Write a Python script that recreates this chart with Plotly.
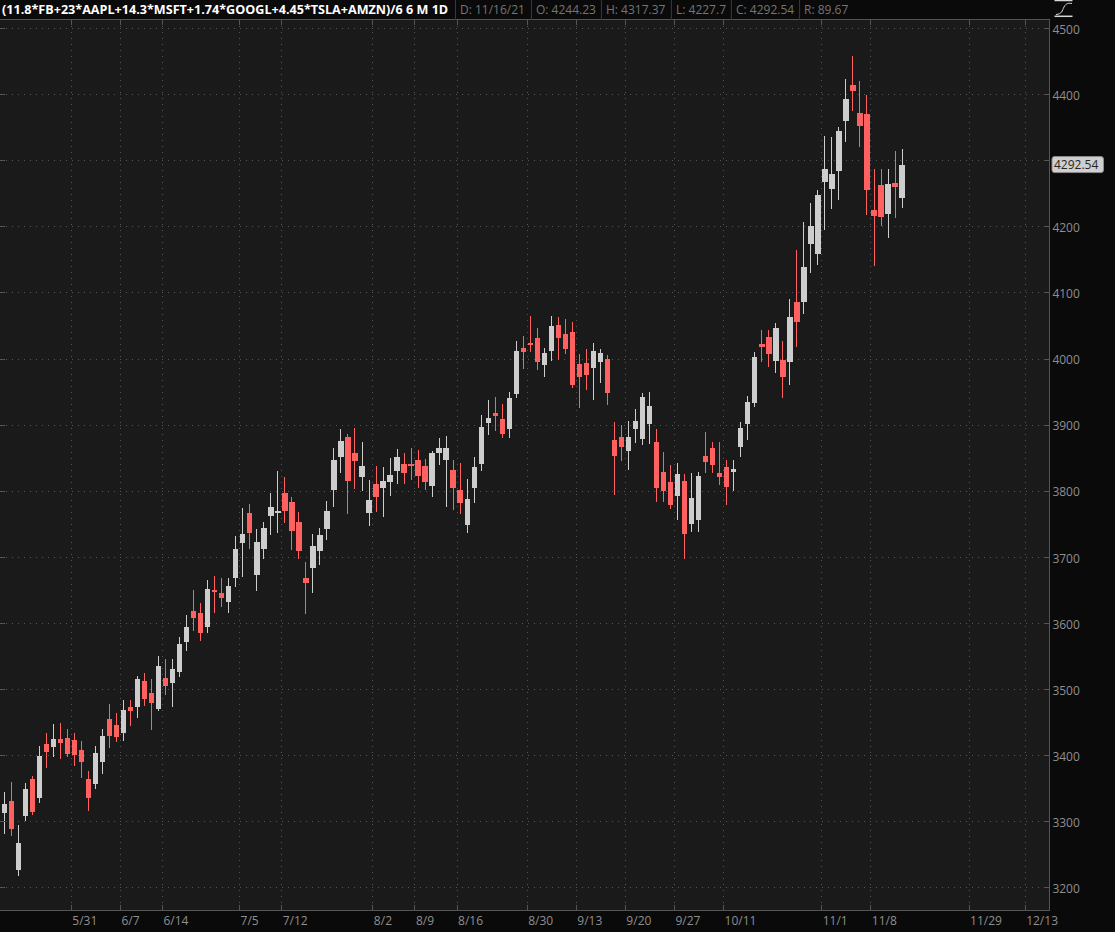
import plotly.graph_objects as go

opens = [3314.5,3331.2,3228.3,3310.0,3364.4,3337.2,3417.3,3414.3,3424.9,3426.4,3423.4,3408.3,3364.4,3358.4,3391.6,3455.1,3446.1,3435.5,3473.3,3474.8,3512.6,3494.5,3471.8,3517.1,3511.1,
 3527.7,3573.3,3618.7,3615.7,3596.0,3650.4,3644.8,3632.7,3669.0,3721.9,3765.8,3673.5,3712.9,3762.8,3767.8,3796.0,3782.4,3752.2,3667.5,3684.1,3709.8,3743.1,3802.1,3852.0,3880.7,3856.5,3821.7,3767.3,3809.6,3805.1,3814.2,3830.8,3839.9,3839.9,3845.9,3836.8,3808.1,3858.0,3847.4,
 3831.2,3800.9,3749.5,3805.5,3841.8,3903.7,3917.4,3908.3,3894.7,3947.6,4015.6,4023.2,4030.8,3991.4,4012.6,4050.4,4036.8,4039.8,3991.4,3993.0,3986.9,3996.0,3999.0,3876.5,3881.1,3861.4,3894.7,3879.6,3902.2,3873.5,3828.1,3813.0,3793.4,
 3814.5,3751.0,3757.1,3852.3,3864.4,3826.6,3835.7,3829.7,3867.5,3902.2,3934.0,4021.7,4032.3,3997.5,3997.5,3996.0,4085.4,4086.9,4175.0,4159.8,4268.7,4258.1,4285.4,4360.9,4413.9,4371.5,4370.0,4224.9,4262.7,4220.3,4265.7,4244.23]
highs = [3345.8,3360.9,3295.9,3359.4,3370.0,3415.3,3435.0,3447.6,3450.1,3440.0,3435.0,3422.9,3377.5,3415.3,3440.0,3478.8,3465.2,3484.9,3483.9,3520.7,3525.7,3516.6,3551.4,3546.9,3546.9,
 3578.9,3613.6,3651.4,3630.3,3665.1,3671.1,3668.5,3668.5,3732.0,3774.3,3780.4,3742.6,3753.2,3797.0,3830.8,3821.2,3791.0,3768.3,3692.7,3735.0,3744.1,3785.4,3865.1,3894.3,3886.7,3895.8,3874.1,3816.7,3838.3,3836.8,3850.4,3864.1,3858.0,3865.1,3862.0,3848.9,3860.5,3880.7,3883.2,
 3847.3,3842.8,3818.6,3851.8,3915.3,3938.5,3942.6,3932.0,3950.1,4027.2,4034.8,4065.5,4046.9,4017.1,4065.5,4063.5,4061.0,4056.0,4007.6,4015.1,4024.7,4015.6,4006.1,3904.8,3900.7,3906.3,3924.9,3948.6,3950.1,3894.2,3859.4,3840.2,3842.8,
 3826.6,3828.1,3829.2,3889.6,3874.5,3874.5,3847.8,3847.8,3905.3,3944.1,4010.6,4044.4,4044.4,4054.4,4027.2,4091.3,4165.0,4207.8,4236.5,4256.1,4337.8,4336.2,4351.4,4423.9,4458.7,4420.9,4398.7,4287.9,4287.9,4287.9,4315.1,4317.37]
lows = [3282.3,3278.8,3218.3,3301.9,3310.5,3328.6,3382.1,3398.2,3395.2,3398.2,3384.6,3366.4,3316.5,3349.8,3372.5,3411.8,3420.9,3422.4,3445.1,3457.2,3475.3,3439.0,3467.7,3491.9,3473.8,
 3519.1,3558.7,3588.9,3573.8,3585.4,3616.2,3624.2,3616.6,3655.9,3671.0,3713.4,3649.9,3698.2,3734.5,3737.5,3752.7,3710.8,3697.2,3615.1,3646.8,3689.2,3727.0,3776.9,3828.3,3766.3,3803.1,3801.1,3748.1,3769.3,3760.7,3793.5,3810.6,3810.6,3816.7,3805.6,3801.6,3792.0,3840.4,3776.4,
 3771.2,3765.6,3736.9,3782.3,3830.2,3885.1,3890.6,3880.1,3880.1,3940.5,3984.4,4010.1,3982.9,3972.3,3996.5,3998.0,4007.1,3955.7,3925.4,3952.6,3937.5,3963.2,3929.9,3794.4,3845.3,3831.7,3873.5,3869.5,3871.0,3784.3,3783.3,3772.7,3756.1,
 3697.1,3737.9,3737.9,3827.1,3827.1,3809.5,3779.3,3800.4,3852.3,3877.5,3927.9,3995.0,3987.4,3978.8,3940.5,3960.2,4018.2,4068.7,4130.6,4142.7,4194.6,4227.4,4241.0,4328.7,4375.6,4321.1,4218.3,4141.2,4201.7,4183.5,4213.8,4227.7]
closes = [3326.6,3290.3,3267.7,3349.3,3316.0,3399.2,3406.8,3424.9,3420.4,3403.7,3402.2,3391.6,3337.2,3403.7,3429.4,3430.9,3429.4,3468.7,3468.7,3515.6,3486.9,3480.8,3535.3,3506.5,3530.7,
 3568.8,3594.5,3609.6,3586.9,3652.0,3648.9,3638.8,3655.4,3711.3,3734.0,3737.0,3721.9,3743.1,3774.8,3768.8,3770.3,3740.1,3709.8,3661.4,3715.9,3732.5,3768.8,3845.9,3874.6,3815.7,3845.9,3836.8,3785.4,3791.5,3814.2,3823.2,3850.4,3827.8,3838.9,3823.2,3814.2,3856.5,3864.1,3864.1,
 3805.5,3782.8,3787.3,3835.7,3896.2,3909.8,3914.3,3887.1,3940.0,4011.1,4011.1,4022.2,3996.0,4008.1,4048.9,4032.3,4015.6,3961.2,3973.3,3976.3,4011.1,4008.1,3949.1,3853.8,3867.5,3881.1,3905.3,3941.5,3927.9,3805.5,3800.9,3779.8,3825.1,
 3735.9,3788.8,3822.1,3844.8,3840.2,3822.1,3807.0,3832.7,3894.7,3934.0,4002.0,4018.7,4008.1,4045.9,3973.3,4062.5,4056.7,4138.3,4200.7,4247.5,4286.9,4279.3,4344.3,4392.7,4406.3,4353.4,4256.6,4217.3,4215.8,4264.2,4261.1,4292.54]
bars = list(range(len(opens)))

# Bar slot at which each date label sits (labels mark the left edge of the slot)
tick_bars = [10,17,23,34,40,53,59,65,75,82,89,96,103,117,124,138,146]
tick_labels = ["5/31","6/7","6/14","7/5","7/12","8/2","8/9","8/16","8/30","9/13","9/20","9/27","10/11","11/1","11/8","11/29","12/13"]
price_ticks = [3200,3300,3400,3500,3600,3700,3800,3900,4000,4100,4200,4300,4400,4500]
# The 4300 label sits behind the last-price badge in the reference
price_labels = ["3200","3300","3400","3500","3600","3700","3800","3900","4000","4100","4200","","4400","4500"]

title_text = "(11.8*FB+23*AAPL+14.3*MSFT+1.74*GOOGL+4.45*TSLA+AMZN)/6 6 M 1D"
header_items = ["D: 11/16/21","O: 4244.23","H: 4317.37","L: 4227.7","C: 4292.54","R: 89.67"]
header_left = [459,535.5,605.5,675.5,735.5,803.5]
header_seps = [455.7,531.7,601.7,671.7,731.7,800]
last_price = 4292.54

W, H = 1115, 932
ML, MR, MT, MB = 0, 65.5, 20.3, 21.7
PW = W - ML - MR
FONT = "Open Sans"
UP, DOWN = "#cdcdcd", "#ff6060"
GRID = "#565656"
LINE = "#555555"
LABEL = "#8f8f8f"

fig = go.Figure(go.Candlestick(
    x=bars, open=opens, high=highs, low=lows, close=closes,
    increasing=dict(line=dict(color=UP, width=1), fillcolor=UP),
    decreasing=dict(line=dict(color=DOWN, width=1), fillcolor=DOWN),
    whiskerwidth=0, showlegend=False, hoverinfo="skip",
))

annos = [dict(text=f"<b>{title_text}</b>", xref="paper", yref="paper", x=1/PW, y=1, yshift=10.5,
              xanchor="left", yanchor="middle", showarrow=False, borderpad=0,
              font=dict(family=FONT, size=12.6, color="#ffffff"))]
for txt, px in zip(header_items, header_left):
    annos.append(dict(text=txt, xref="paper", yref="paper", x=px/PW, y=1, yshift=10.5,
                      xanchor="left", yanchor="middle", showarrow=False, borderpad=0,
                      font=dict(family=FONT, size=12, color="#757575")))
annos.append(dict(text=f"{last_price:.2f}", xref="paper", yref="y", x=(1053.5)/PW, y=last_price, yshift=1,
                  xanchor="left", yanchor="middle", showarrow=False, borderpad=0,
                  font=dict(family=FONT, size=12, color="#262626")))

shapes = []
for px in header_seps:
    shapes.append(dict(type="line", xref="paper", yref="paper", xsizemode="pixel", ysizemode="pixel",
                       xanchor=px/PW, yanchor=1, x0=0, x1=0, y0=0, y1=20, line=dict(color="#3a3a3a", width=1)))
r = 2.5
x0, x1, y0, y1 = 3, 54.5, -7, 9
badge = (f"M{x0+r},{y0} L{x1-r},{y0} Q{x1},{y0} {x1},{y0+r} L{x1},{y1-r} Q{x1},{y1} {x1-r},{y1} "
         f"L{x0+r},{y1} Q{x0},{y1} {x0},{y1-r} L{x0},{y0+r} Q{x0},{y0} {x0+r},{y0} Z")
shapes.append(dict(type="path", xref="paper", yref="y", xsizemode="pixel", ysizemode="pixel",
                   xanchor=1, yanchor=last_price, path=badge, fillcolor="#cfcfcf", line=dict(color="#8a8a8a", width=1), layer="above"))
# study icon in the top right corner
for yy in (19.5, 3.7):
    shapes.append(dict(type="line", xref="paper", yref="paper", xsizemode="pixel", ysizemode="pixel",
                       xanchor=1, yanchor=1, x0=5.5, x1=23.5, y0=yy, y1=yy, line=dict(color="#d8d8d8", width=1.5)))
shapes.append(dict(type="path", xref="paper", yref="paper", xsizemode="pixel", ysizemode="pixel",
                   xanchor=1, yanchor=1, path="M7,5.5 C13,6 13,9 15,13 C17,17 20,17 23,16.5",
                   line=dict(color="#d8d8d8", width=1)))

fig.update_layout(
    width=W, height=H, margin=dict(l=ML, r=MR, t=MT, b=MB, pad=0, autoexpand=False),
    paper_bgcolor="#0a0a0a", plot_bgcolor="#1a1a1a",
    font=dict(family=FONT, size=12, color=LABEL), showlegend=False,
    annotations=annos, shapes=shapes, boxgap=0.1,
    xaxis=dict(type="linear", range=[-0.613, 148.95], rangeslider=dict(visible=False),
               tickmode="array", tickvals=[b-0.45 for b in tick_bars], ticktext=tick_labels,
               ticks="inside", ticklen=5, tickcolor=LINE, tickwidth=1,
               showline=True, linecolor=LINE, linewidth=1, mirror="ticks",
               showgrid=True, gridcolor=GRID, gridwidth=1, griddash="1px,5px",
               zeroline=False, ticklabelposition="outside right", ticklabelstandoff=0,
               tickfont=dict(family=FONT, size=12, color=LABEL)),
    yaxis=dict(side="right", range=[3166.7, 4512.7], tickmode="array", tickvals=price_ticks,
               ticktext=price_labels,
               ticks="inside", ticklen=5, tickcolor=LINE, tickwidth=1,
               showline=True, linecolor=LINE, linewidth=1, mirror="ticks",
               showgrid=True, gridcolor=GRID, gridwidth=1, griddash="1px,5px",
               zeroline=False, ticklabelshift=1, tickfont=dict(family=FONT, size=12, color=LABEL)),
)

fig.write_html("out.html", config=dict(displayModeBar=False),
               post_script=("document.body.style.margin='0';document.body.style.overflow='hidden';"
                            "document.documentElement.style.background='#0a0a0a';"
                            "var s=document.createElement('style');"
                            "s.textContent='.boxlayer path{shape-rendering:crispEdges}';"
                            "document.head.appendChild(s);"))
